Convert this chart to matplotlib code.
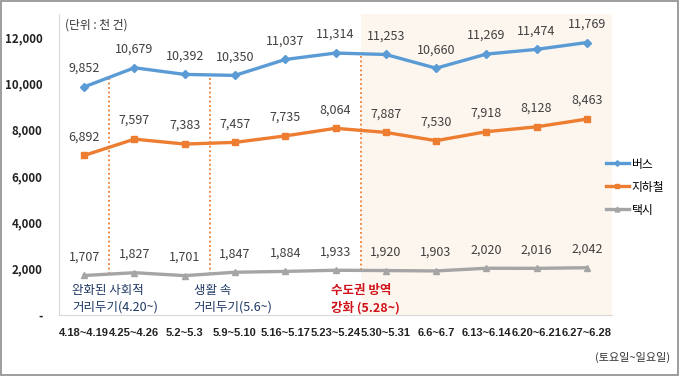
import numpy as np
import matplotlib
matplotlib.use('Agg')
import matplotlib.pyplot as plt
from matplotlib.patches import Rectangle

plt.rcParams['font.family'] = ['Noto Sans CJK KR', 'DejaVu Sans']

# Data (unit: thousand trips)
weeks = ['4.18~4.19', '4.25~4.26', '5.2~5.3', '5.9~5.10', '5.16~5.17', '5.23~5.24',
         '5.30~5.31', '6.6~6.7', '6.13~6.14', '6.20~6.21', '6.27~6.28']
bus = [9852, 10679, 10392, 10350, 11037, 11314, 11253, 10660, 11269, 11474, 11769]
subway = [6892, 7597, 7383, 7457, 7735, 8064, 7887, 7530, 7918, 8128, 8463]
taxi = [1707, 1827, 1701, 1847, 1884, 1933, 1920, 1903, 2020, 2016, 2042]
yticks = [0, 2000, 4000, 6000, 8000, 10000, 12000]
ytick_labels = ['-', '2,000', '4,000', '6,000', '8,000', '10,000', '12,000']
event_labels = ['완화된 사회적\n거리두기(4.20~)', '생활 속\n거리두기(5.6~)', '수도권 방역\n강화 (5.28~)']
event_pos = [0.5, 2.5, 5.5]          # between weeks
label_x = [-0.24, 2.18, 4.92]        # text placement
label_col = ['#1F3864', '#1F3864', '#D0121B']

fig = plt.figure(figsize=(6.8, 3.76), dpi=100)
fig.patches.append(Rectangle((0.002, 0.003), 0.995, 0.994, transform=fig.transFigure,
                             fill=False, edgecolor='#8c8c8c', linewidth=1.2))
ax = fig.add_axes([0.0868, 0.1622, 0.8132, 0.8005])

x = np.arange(len(weeks))
ax.set_xlim(-0.5, len(weeks) - 0.5)
ax.set_ylim(0, 13000)

# shaded period after 5.28
ax.axvspan(5.5, len(weeks) - 0.5, color='#FDF6EF', zorder=0, linewidth=0)

series = [('버스', bus, '#5B9BD5', 'D', 4),
          ('지하철', subway, '#ED7D31', 's', 5),
          ('택시', taxi, '#A5A5A5', '^', 5)]
for name, vals, col, mk, ms in series:
    ax.plot(x, vals, color=col, lw=2.4, marker=mk, ms=ms, label=name, zorder=3)
    for xi, v in zip(x, vals):
        ax.text(xi, v + 520, f'{v:,}', ha='center', va='bottom', fontsize=9,
                color='#404040')

# dotted event lines from taxi line up to bus line
for lab, xe, lx, col in zip(event_labels, event_pos, label_x, label_col):
    i = int(xe)
    ytop = (bus[i] + bus[i + 1]) / 2
    ybot = (taxi[i] + taxi[i + 1]) / 2
    ax.plot([xe, xe], [ybot, ytop], ls=(0, (1, 1.5)), color='#ED7D31', lw=1.3, zorder=2)
    ax.text(lx, 1330, lab, ha='left', va='top', fontsize=9, color=col,
            linespacing=1.35, fontweight='bold' if col == '#D0121B' else 'normal')

ax.set_xticks(x)
ax.set_xticklabels(weeks, fontsize=8.0, fontweight='bold', color='#222222',
                   family='Liberation Sans')
ax.set_yticks(yticks)
ax.set_yticklabels(ytick_labels, fontsize=8.3, fontweight='bold', color='#222222')
ax.tick_params(axis='x', length=0, pad=9)
ax.tick_params(axis='y', length=0, pad=12)
for s in ['top', 'right']:
    ax.spines[s].set_visible(False)
for s in ['left', 'bottom']:
    ax.spines[s].set_color('#D9D9D9')
ax.set_facecolor('none')

ax.text(0.01, 0.985, '(단위 : 천 건)', transform=ax.transAxes, ha='left', va='top',
        fontsize=8.5, color='#333333')
fig.text(0.985, 0.05, '(토요일~일요일)', ha='right', va='center', fontsize=8,
         color='#333333')

ax.legend(loc='center left', bbox_to_anchor=(0.98, 0.425), frameon=False, fontsize=8.5,
          handlelength=2.0, handletextpad=0.2, labelspacing=0.85, markerscale=0.7,
          borderaxespad=0.0)

fig.savefig('out.png', dpi=100)
